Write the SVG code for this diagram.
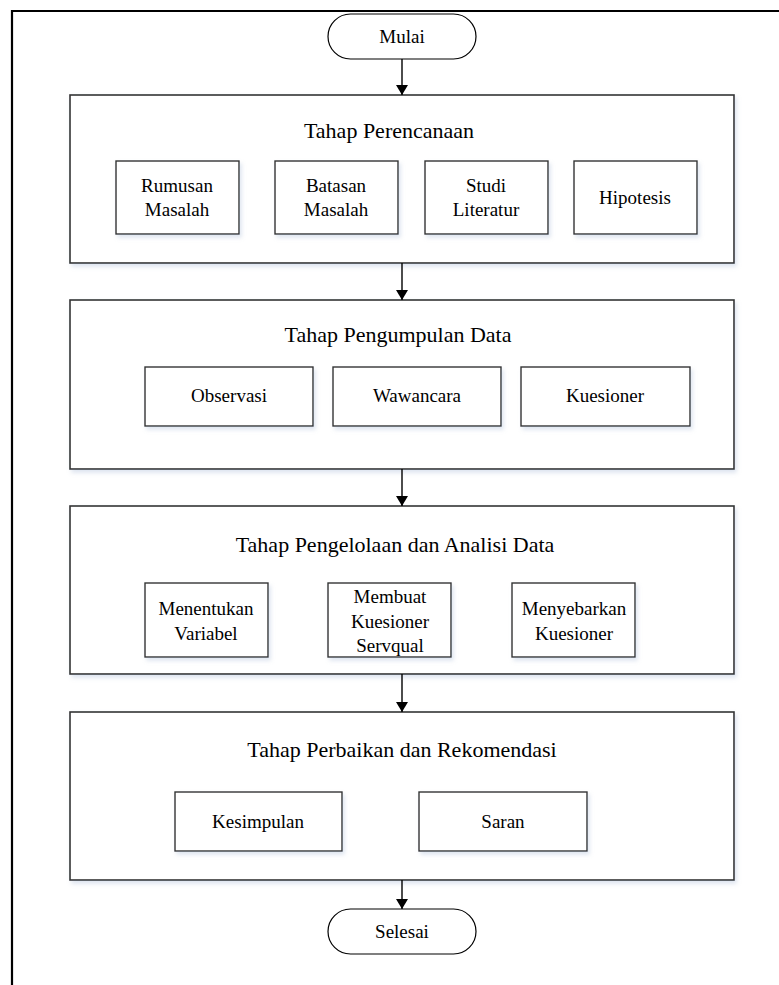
<svg xmlns="http://www.w3.org/2000/svg" width="779" height="985" viewBox="0 0 779 985">
<style>
.stage{fill:#fff;stroke:#333;stroke-width:1.6;filter:url(#sh)}
.box{fill:#fff;stroke:#333;stroke-width:1.4;filter:url(#sh)}
.term{fill:#fff;stroke:#000;stroke-width:1.2}
.t{font-family:"Liberation Serif","Times New Roman",serif;fill:#000;text-anchor:middle}
.title{font-size:22px}
.lbl{font-size:19px}
.conn line{stroke:#000;stroke-width:1.4;marker-end:url(#ah)}
</style>
<defs>
<filter id="sh" x="-10%" y="-10%" width="125%" height="130%">
<feDropShadow dx="2" dy="3" stdDeviation="2" flood-color="#9fb3d1" flood-opacity="0.35"/>
</filter>
<marker id="ah" viewBox="0 0 10 12" refX="10" refY="6" markerWidth="10" markerHeight="12" markerUnits="userSpaceOnUse" orient="auto">
<path d="M0,0 L10,6 L0,12 z" fill="#000" transform="rotate(0)"/>
</marker>
</defs>
<rect width="779" height="985" fill="#fff"/>
<path d="M12,985 V11 H779" fill="none" stroke="#000" stroke-width="2.2"/>

<g id="mulai">
<rect class="term" x="328" y="14" width="148" height="45" rx="22.5"/>
<text class="t lbl" x="402" y="43">Mulai</text>
</g>

<g id="perencanaan">
<rect class="stage" x="70" y="95" width="664" height="168"/>
<text class="t title" x="389" y="138">Tahap Perencanaan</text>
<g id="rumusan"><rect class="box" x="116" y="161" width="123" height="73"/>
<text class="t lbl" x="177" y="192">Rumusan</text><text class="t lbl" x="177" y="216">Masalah</text></g>
<g id="batasan"><rect class="box" x="275" y="161" width="123" height="73"/>
<text class="t lbl" x="336" y="192">Batasan</text><text class="t lbl" x="336" y="216">Masalah</text></g>
<g id="studi"><rect class="box" x="425" y="161" width="123" height="73"/>
<text class="t lbl" x="486" y="192">Studi</text><text class="t lbl" x="486" y="216">Literatur</text></g>
<g id="hipotesis"><rect class="box" x="574" y="161" width="123" height="73"/>
<text class="t lbl" x="635" y="204">Hipotesis</text></g>
</g>

<g id="pengumpulan">
<rect class="stage" x="70" y="300" width="664" height="169"/>
<text class="t title" x="398" y="342">Tahap Pengumpulan Data</text>
<g id="observasi"><rect class="box" x="145" y="367" width="168" height="59"/>
<text class="t lbl" x="229" y="402">Observasi</text></g>
<g id="wawancara"><rect class="box" x="333" y="367" width="168" height="59"/>
<text class="t lbl" x="417" y="402">Wawancara</text></g>
<g id="kuesioner"><rect class="box" x="521" y="367" width="169" height="59"/>
<text class="t lbl" x="605" y="402">Kuesioner</text></g>
</g>

<g id="pengelolaan">
<rect class="stage" x="70" y="506" width="664" height="168"/>
<text class="t title" x="395" y="552">Tahap Pengelolaan dan Analisi Data</text>
<g id="menentukan"><rect class="box" x="145" y="583" width="123" height="74"/>
<text class="t lbl" x="206" y="615">Menentukan</text><text class="t lbl" x="206" y="640">Variabel</text></g>
<g id="membuat"><rect class="box" x="328" y="583" width="123" height="74"/>
<text class="t lbl" x="390" y="603">Membuat</text><text class="t lbl" x="390" y="628">Kuesioner</text><text class="t lbl" x="390" y="652">Servqual</text></g>
<g id="menyebarkan"><rect class="box" x="512" y="583" width="123" height="74"/>
<text class="t lbl" x="574" y="615">Menyebarkan</text><text class="t lbl" x="574" y="640">Kuesioner</text></g>
</g>

<g id="perbaikan">
<rect class="stage" x="70" y="712" width="664" height="168"/>
<text class="t title" x="402" y="757">Tahap Perbaikan dan Rekomendasi</text>
<g id="kesimpulan"><rect class="box" x="175" y="792" width="167" height="59"/>
<text class="t lbl" x="258" y="828">Kesimpulan</text></g>
<g id="saran"><rect class="box" x="419" y="792" width="168" height="59"/>
<text class="t lbl" x="503" y="828">Saran</text></g>
</g>

<g id="selesai">
<rect class="term" x="328" y="909" width="148" height="45" rx="22.5"/>
<text class="t lbl" x="402" y="938">Selesai</text>
</g>

<g id="connectors" class="conn">
<line x1="402" y1="59" x2="402" y2="95"/>
<line x1="402" y1="263" x2="402" y2="300"/>
<line x1="402" y1="469" x2="402" y2="506"/>
<line x1="402" y1="674" x2="402" y2="712"/>
<line x1="402" y1="880" x2="402" y2="909"/>
</g>
</svg>
